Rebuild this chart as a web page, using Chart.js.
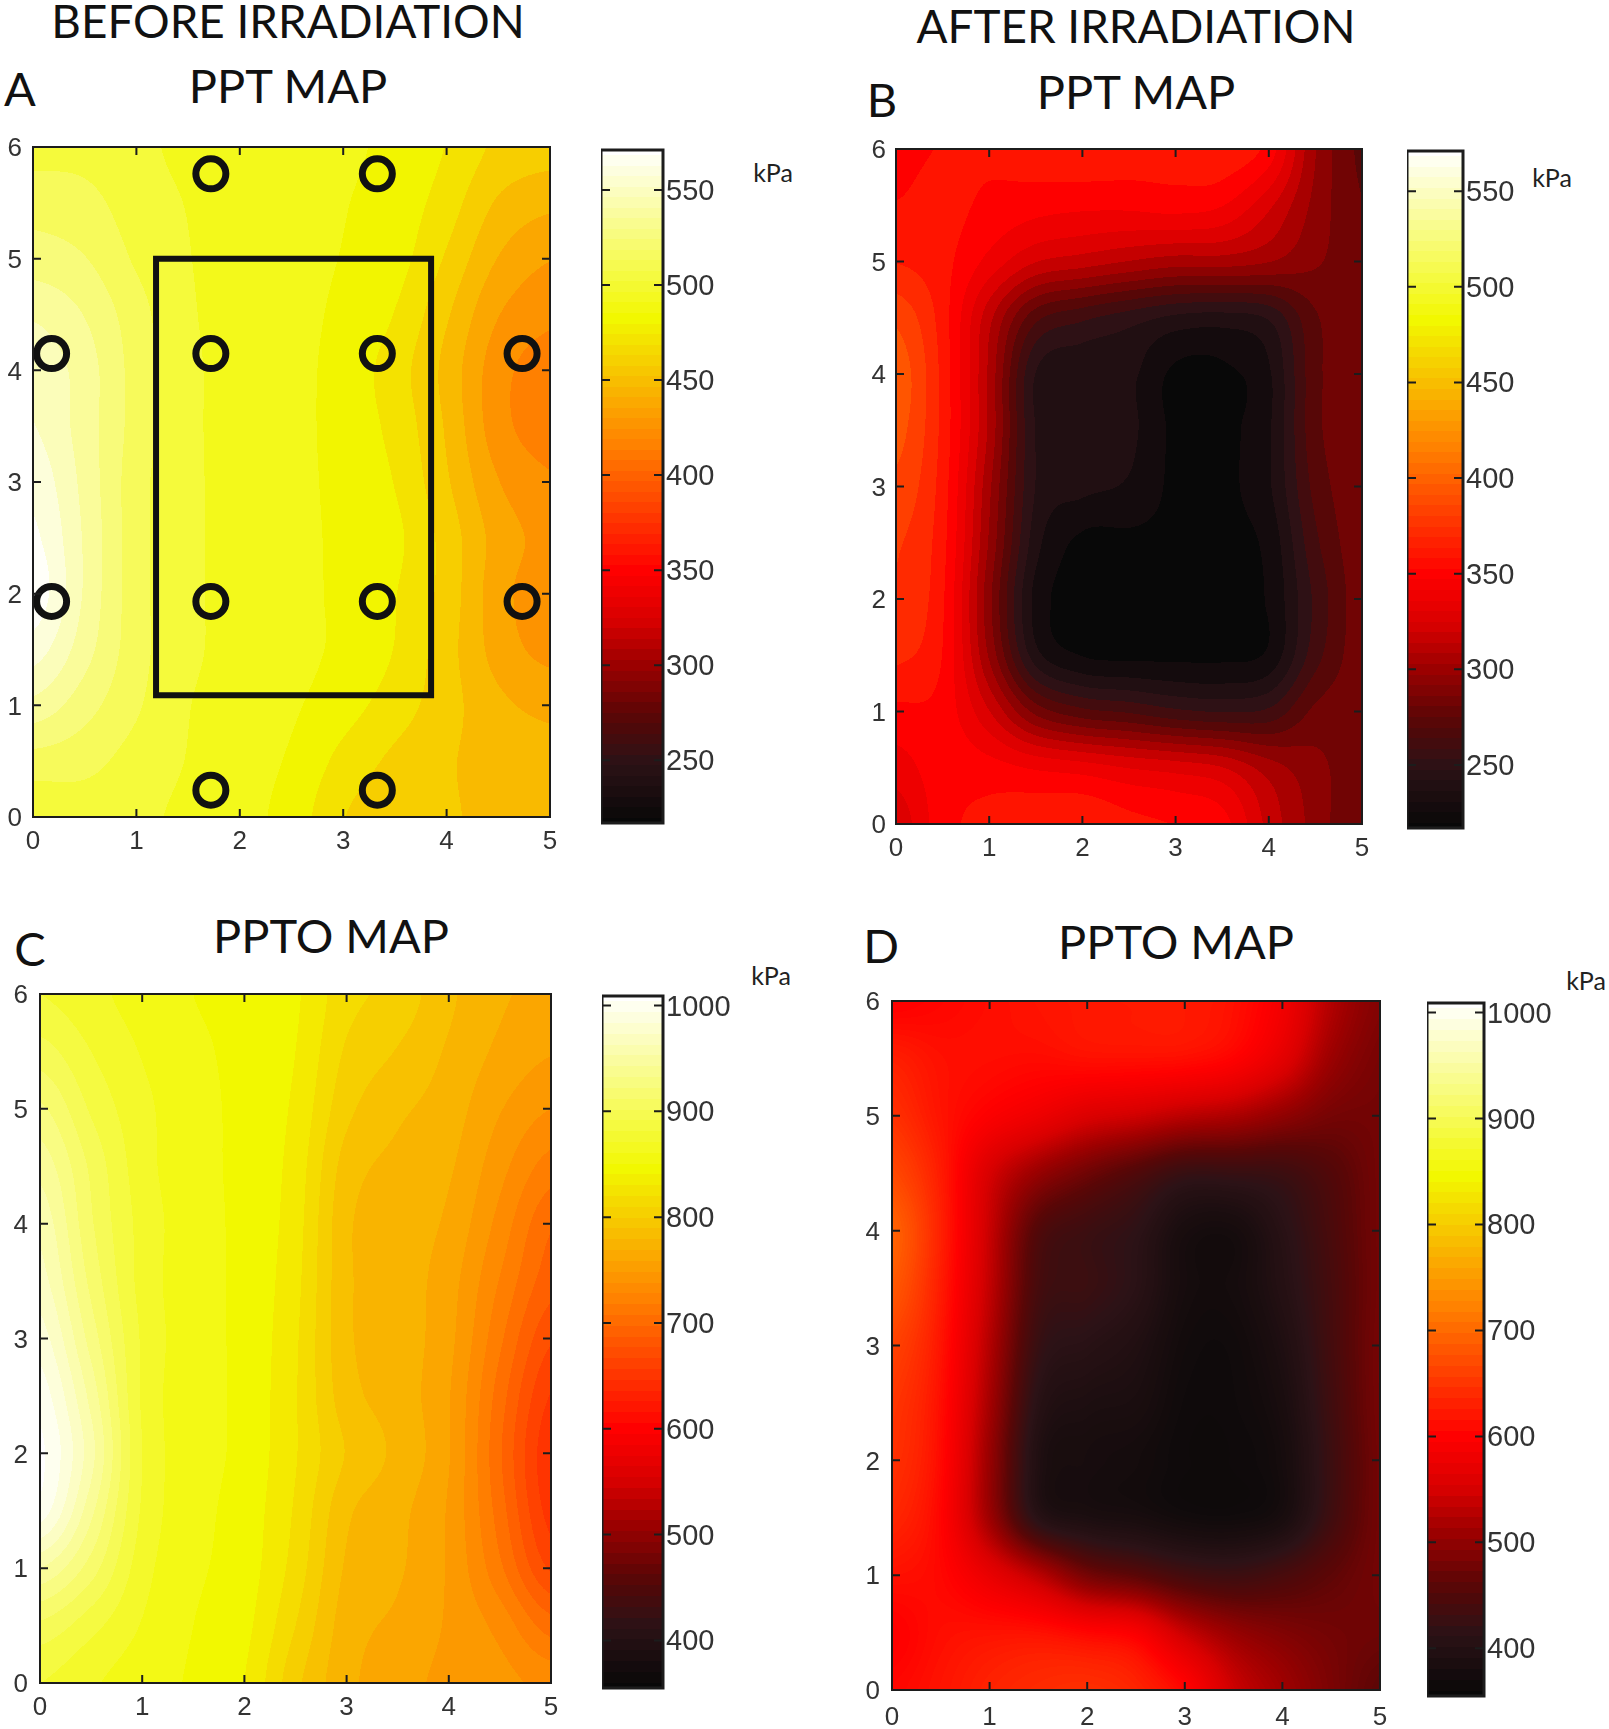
<!DOCTYPE html>
<html>
<head>
<meta charset="utf-8">
<script src="https://cdn.jsdelivr.net/npm/chart.js"></script>
<style>
  body { margin: 0; background: #fff; width: 1609px; height: 1729px; position: relative; overflow: hidden; }
  canvas { position: absolute; }
  .t { position: absolute; font-family: Lato, sans-serif; color: #111; transform: translate(-50%, -50%); white-space: nowrap; line-height: 1; }
  .big { font-size: 47px; }
  .long { font-size: 45.8px; }
  .kpa { font-size: 25px; color: #222; }
</style>
</head>
<body>
<div class="t long" style="left:288px;top:21px">BEFORE IRRADIATION</div>
<div class="t big" style="left:288px;top:85px">PPT MAP</div>
<div class="t big" style="left:20px;top:88px">A</div>
<div class="t long" style="left:1136px;top:26px">AFTER IRRADIATION</div>
<div class="t big" style="left:1136px;top:91px">PPT MAP</div>
<div class="t big" style="left:882px;top:99px">B</div>
<div class="t big" style="left:331px;top:935px">PPTO MAP</div>
<div class="t big" style="left:30px;top:948px">C</div>
<div class="t big" style="left:1176px;top:941px">PPTO MAP</div>
<div class="t big" style="left:881px;top:945px">D</div>
<div class="t kpa" style="left:773px;top:172px">kPa</div>
<div class="t kpa" style="left:1552px;top:177px">kPa</div>
<div class="t kpa" style="left:771px;top:975px">kPa</div>
<div class="t kpa" style="left:1586px;top:980px">kPa</div>
<script>
// grid the maps were read on (columns x, rows y from top to bottom)
const xGrid = [0, 0.5, 1, 1.5, 2, 2.5, 3, 3.5, 4, 4.5, 5];
const yGrid = [6, 5.5, 5, 4.5, 4, 3.5, 3, 2.5, 2, 1.5, 1, 0.5, 0];

const pptBefore = [
  [505,505,500,495,492,490,488,484,475,462,458],
  [515,512,503,497,493,490,487,482,470,452,445],
  [525,520,507,498,493,490,486,480,463,442,432],
  [540,530,513,499,494,490,484,475,455,432,423],
  [550,536,515,500,494,490,482,470,450,425,415],
  [553,536,515,500,494,490,482,472,452,425,415],
  [560,538,513,500,494,490,483,475,455,432,422],
  [566,540,513,500,494,490,484,478,460,438,428],
  [571,540,513,500,494,490,484,476,460,436,425],
  [558,535,513,500,494,490,484,475,458,438,428],
  [538,524,510,498,493,488,480,470,458,445,440],
  [515,512,504,497,491,485,472,462,455,448,446],
  [500,503,500,495,490,482,465,458,455,450,450]
];
const pptAfter = [
  [352,355,356,360,362,360,358,362,350,300,275],
  [355,358,352,348,346,346,348,344,324,296,278],
  [365,358,340,322,316,310,305,305,300,290,282],
  [385,360,314,270,258,250,242,240,246,276,285],
  [395,362,308,244,236,236,220,220,232,274,285],
  [392,362,308,244,236,236,220,220,232,274,285],
  [385,360,302,244,236,232,220,220,232,270,286],
  [378,358,298,238,220,220,220,220,226,264,285],
  [375,356,292,230,220,220,220,220,224,258,284],
  [368,354,298,238,222,220,220,220,225,262,284],
  [352,350,322,285,270,265,258,255,258,280,284],
  [338,350,348,342,338,332,328,322,305,292,282],
  [325,350,358,362,364,358,354,348,318,295,278]
];
const ppToBefore = [
  [880,870,860,852,848,840,815,805,785,770,765],
  [900,880,865,855,848,838,808,795,780,765,755],
  [925,892,870,857,848,835,800,785,775,755,740],
  [945,905,872,857,848,832,790,778,770,745,720],
  [960,910,875,858,848,830,785,775,765,735,700],
  [970,918,875,858,848,828,785,775,760,725,690],
  [985,930,878,858,848,826,785,775,758,715,672],
  [1000,945,878,858,848,825,788,775,755,705,655],
  [1009,955,880,858,848,825,795,778,755,700,645],
  [1000,940,878,857,846,822,785,772,752,705,650],
  [950,915,872,855,845,818,780,770,752,715,668],
  [905,885,865,852,842,810,775,765,752,735,705],
  [880,868,858,850,838,800,772,760,750,745,735]
];
const ppToAfter = [
  [598,605,612,618,622,624,624,615,585,525,490],
  [628,615,612,610,614,614,612,600,565,508,482],
  [645,618,596,578,556,545,530,520,500,480,478],
  [668,625,552,505,475,450,425,425,430,452,478],
  [692,630,540,452,430,415,382,378,408,444,478],
  [682,625,535,440,428,410,378,376,402,440,478],
  [662,618,525,425,408,395,372,370,392,438,480],
  [650,612,515,408,390,385,368,368,384,434,480],
  [645,608,505,395,380,375,366,366,378,430,478],
  [635,603,510,408,388,382,372,370,382,434,478],
  [615,606,572,530,480,460,438,430,442,462,478],
  [598,612,616,615,604,592,540,505,488,478,474],
  [606,618,632,640,644,634,604,544,512,484,462]
];

// measuring points and outlined area drawn on panel A
const markerX = [0.18, 1.72, 3.33, 1.72, 3.33, 4.73, 0.18, 1.72, 3.33, 4.73, 1.72, 3.33];
const markerY = [4.15, 5.76, 5.76, 4.15, 4.15, 4.15, 1.93, 1.93, 1.93, 1.93, 0.24, 0.24];
const rectX = [1.19, 3.85, 3.85, 1.19, 1.19];
const rectY = [5.0, 5.0, 1.09, 1.09, 5.0];

// colormap (matlab hot, slightly lifted in the darks like the scan)
const hotStops = [0, 0.09, 0.16, 0.24, 0.30, 0.375, 0.56, 0.75, 1];
const hotColors = [[8,8,8],[44,18,22],[90,6,6],[160,0,0],[216,0,0],[255,0,0],[255,128,0],[242,248,0],[255,255,255]];

function hot(f) {
  f = Math.min(1, Math.max(0, f));
  let i = 0;
  while (i < hotStops.length - 2 && f > hotStops[i + 1]) i++;
  const t = (f - hotStops[i]) / (hotStops[i + 1] - hotStops[i]);
  return hotColors[i].map((c, k) => c + (hotColors[i + 1][k] - c) * t);
}

function cubic(a, b, c, d, t) {
  return b + 0.5 * t * (c - a + t * (2 * a - 5 * b + 4 * c - d + t * (3 * (b - c) + d - a)));
}

// smooth lookup of the value grid, same idea as matlab's shading
function lookup(grid, x, y) {
  const fx = x / 0.5, fy = (6 - y) / 0.5;
  const ix = Math.floor(fx), iy = Math.floor(fy);
  const row = r => {
    const g = grid[Math.min(12, Math.max(0, r))];
    const c = i => g[Math.min(10, Math.max(0, i))];
    return cubic(c(ix - 1), c(ix), c(ix + 1), c(ix + 2), fx - ix);
  };
  return cubic(row(iy - 1), row(iy), row(iy + 1), row(iy + 2), fy - iy);
}

const heatPlugin = {
  id: 'heat',
  beforeDatasetsDraw(chart) {
    const o = chart.config.options.heat;
    const a = chart.chartArea;
    const w = Math.round(a.right - a.left), h = Math.round(a.bottom - a.top);
    const off = document.createElement('canvas');
    off.width = w; off.height = h;
    const c = off.getContext('2d');
    const img = c.createImageData(w, h);
    const sx = chart.scales.x, sy = chart.scales.y;
    for (let py = 0; py < h; py++) {
      const vy = sy.getValueForPixel(a.top + py + 0.5);
      for (let px = 0; px < w; px++) {
        let v = o.grid ? lookup(o.grid, sx.getValueForPixel(a.left + px + 0.5), vy) : vy;
        v = o.vmin + Math.round((v - o.vmin) / o.step) * o.step;
        const col = hot((v - o.vmin) / (o.vmax - o.vmin));
        const k = (py * w + px) * 4;
        img.data[k] = col[0]; img.data[k + 1] = col[1]; img.data[k + 2] = col[2]; img.data[k + 3] = 255;
      }
    }
    c.putImageData(img, 0, 0);
    chart.ctx.drawImage(off, a.left, a.top, a.right - a.left, a.bottom - a.top);
  },
  afterDatasetsDraw(chart) {
    const o = chart.config.options.heat;
    const a = chart.chartArea, ctx = chart.ctx;
    ctx.save();
    ctx.strokeStyle = '#1c1c1c';
    ctx.lineWidth = o.frame;
    ctx.strokeRect(a.left, a.top, a.right - a.left, a.bottom - a.top);
    // matlab style ticks pointing inwards on every side
    ctx.lineWidth = 2;
    ctx.beginPath();
    chart.scales.y.ticks.forEach(t => {
      const p = chart.scales.y.getPixelForValue(t.value);
      ctx.moveTo(a.left, p); ctx.lineTo(a.left + o.tick, p);
      ctx.moveTo(a.right, p); ctx.lineTo(a.right - o.tick, p);
    });
    if (o.grid) chart.scales.x.ticks.forEach(t => {
      const p = chart.scales.x.getPixelForValue(t.value);
      ctx.moveTo(p, a.top); ctx.lineTo(p, a.top + o.tick);
      ctx.moveTo(p, a.bottom); ctx.lineTo(p, a.bottom - o.tick);
    });
    ctx.stroke();
    ctx.restore();
  }
};

function fixedScale(extra, size, key) {
  return Object.assign({
    grid: { display: false, drawTicks: false },
    border: { display: false },
    afterFit(s) {
      s[key] = size;
      // tick padding otherwise eats into the plot area
      s.paddingTop = s.paddingBottom = s.paddingLeft = s.paddingRight = 0;
    }
  }, extra);
}

function addCanvas(left, top, w, h) {
  const cv = document.createElement('canvas');
  cv.width = w; cv.height = h;
  cv.style.left = left + 'px'; cv.style.top = top + 'px';
  document.body.appendChild(cv);
  return cv;
}

function mapChart(box, grid, vmin, vmax, step, padX, padY, extraSets) {
  const [l, t, r, b] = box;
  const cv = addCanvas(l - 44, t - 16, r - l + 44 + 16, b - t + 16 + 44);
  const tickFont = { family: "'Liberation Sans', Arial, sans-serif", size: 26 };
  new Chart(cv, {
    type: 'scatter',
    data: { datasets: extraSets || [] },
    options: {
      responsive: false, animation: false,
      layout: { autoPadding: false, padding: { top: 16, right: 16, left: 0, bottom: 0 } },
      plugins: { legend: { display: false }, tooltip: { enabled: false } },
      heat: { grid, vmin, vmax, step, frame: 2, tick: 8 },
      scales: {
        x: fixedScale({ type: 'linear', min: 0, max: 5, ticks: { stepSize: 1, padding: padY, color: '#333', font: tickFont, maxRotation: 0 } }, 44, 'height'),
        y: fixedScale({ type: 'linear', min: 0, max: 6, ticks: { stepSize: 1, padding: padX, labelOffset: 2, color: '#333', font: tickFont } }, 44, 'width')
      }
    },
    plugins: [heatPlugin]
  });
}

function barChart(box, vmin, vmax, tickStep) {
  const [l, t, r, b] = box;
  const cv = addCanvas(l, t - 16, r - l + 84, b - t + 32);
  new Chart(cv, {
    type: 'scatter',
    data: { datasets: [] },
    options: {
      responsive: false, animation: false,
      layout: { autoPadding: false, padding: { top: 16, bottom: 16, left: 0, right: 0 } },
      plugins: { legend: { display: false }, tooltip: { enabled: false } },
      heat: { grid: null, vmin, vmax, step: (vmax - vmin) / 64, frame: 3, tick: 9 },
      scales: {
        x: { type: 'linear', display: false, min: 0, max: 1 },
        y: fixedScale({
          type: 'linear', position: 'right', min: vmin, max: vmax,
          ticks: { stepSize: tickStep, includeBounds: false, padding: 3, labelOffset: 2, color: '#333', callback: v => String(v), font: { family: "'Liberation Sans', Arial, sans-serif", size: 29 } }
        }, 84, 'width')
      }
    },
    plugins: [heatPlugin]
  });
}

const markerSet = {
  data: markerX.map((x, i) => ({ x, y: markerY[i] })),
  pointRadius: 15, pointBorderWidth: 7,
  pointBackgroundColor: 'rgba(0,0,0,0)', pointBorderColor: '#111'
};
const rectSet = {
  data: rectX.map((x, i) => ({ x, y: rectY[i] })),
  showLine: true, tension: 0, pointRadius: 0, borderColor: '#111', borderWidth: 6, borderCapStyle: 'square'
};

mapChart([33, 147, 550, 817], pptBefore, 217, 571, 11, 11, 9, [rectSet, markerSet]);
mapChart([896, 149, 1362, 824], pptAfter, 217, 571, 11, 10, 9);
mapChart([40, 994, 551, 1683], ppToBefore, 355, 1009, 14, 12, 9);
mapChart([892, 1001, 1380, 1690], ppToAfter, 355, 1009, 3, 12, 12);

barChart([601, 150, 663, 823], 217, 571, 50);
barChart([1407, 151, 1463, 828], 217, 571, 50);
barChart([602, 996, 663, 1688], 355, 1009, 100);
barChart([1427, 1003, 1484, 1696], 355, 1009, 100);
</script>
</body>
</html>
